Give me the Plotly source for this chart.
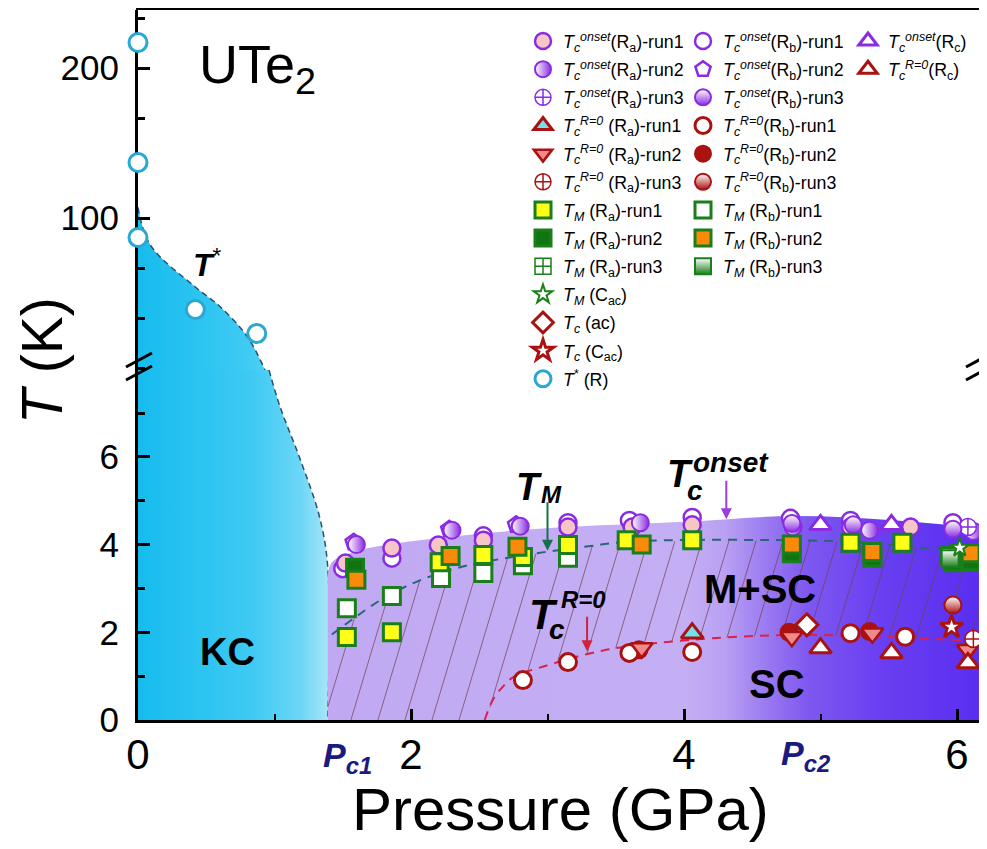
import numpy as np
import plotly.graph_objects as go

FONT = "Liberation Sans, Arial, sans-serif"

# ---------------- data : pressure (GPa), temperature (K) ----------------
# T*(R)  (upper panel)
tstar_P = [0.0, 0.0, 0.0, 0.42, 0.87]
tstar_T = [217, 137, 87, 39, 23]

# Tc onset
on_Ra1_P = [1.52, 1.86, 2.20, 2.53, 3.15, 3.62, 4.06, 5.22, 5.66]
on_Ra1_T = [3.58, 3.92, 3.99, 4.10, 4.40, 4.40, 4.45, 4.40, 4.40]
on_Ra2_P = [1.60, 2.30, 2.80, 3.68, 4.80, 5.36, 6.12]
on_Ra2_T = [4.00, 4.33, 4.42, 4.50, 4.40, 4.33, 4.30]
on_Ra3_P = [6.08]
on_Ra3_T = [4.40]
on_Rb1_P = [1.50, 1.86, 2.53, 3.15, 3.60, 4.06, 4.78, 5.22, 5.97]
on_Rb1_T = [3.45, 3.69, 4.20, 4.50, 4.55, 4.62, 4.60, 4.55, 4.50]
on_Rb2_P = [1.58, 2.28, 2.77]
on_Rb2_T = [4.05, 4.35, 4.45]
on_Rb3_P = [4.79, 5.24, 5.97]
on_Rb3_T = [4.48, 4.45, 4.35]
on_Rc_P = [5.00, 5.52]
on_Rc_T = [4.45, 4.45]

# Tc (R=0)
r0_Ra1_P = [4.06]
r0_Ra1_T = [1.98]
r0_Ra2_P = [3.69, 4.79, 5.38, 6.08]
r0_Ra2_T = [1.64, 1.90, 1.98, 1.60]
r0_Ra3_P = [6.12]
r0_Ra3_T = [1.85]
r0_Rb1_P = [2.82, 3.15, 3.60, 4.06, 5.22, 5.62]
r0_Rb1_T = [0.91, 1.32, 1.53, 1.55, 1.98, 1.90]
r0_Rb2_P = [3.67, 4.77, 5.36]
r0_Rb2_T = [1.60, 2.00, 2.02]
r0_Rb3_P = [5.97]
r0_Rb3_T = [2.62]
r0_Rc_P = [5.00, 5.52, 6.08]
r0_Rc_T = [1.64, 1.53, 1.30]
tc_ac_P = [4.90]
tc_ac_T = [2.17]
tc_cac_P = [5.96]
tc_cac_T = [2.12]

# TM
tm_Ra1_P = [1.53, 1.86, 2.21, 2.53, 2.82, 3.15, 3.58, 4.06, 5.22, 5.60]
tm_Ra1_T = [1.89, 2.00, 3.60, 3.76, 3.72, 3.99, 4.10, 4.10, 4.04, 4.04]
tm_Ra2_P = [1.59, 4.79, 5.38, 5.97, 6.10]
tm_Ra2_T = [3.47, 3.80, 3.70, 3.60, 3.62]
tm_Ra3_P = [5.95]
tm_Ra3_T = [3.72]
tm_Rb1_P = [1.53, 1.86, 2.22, 2.53, 2.82, 3.15, 5.95]
tm_Rb1_T = [2.55, 2.83, 3.24, 3.35, 3.53, 3.70, 3.76]
tm_Rb2_P = [1.60, 2.29, 2.78, 3.69, 4.79, 5.38, 6.10]
tm_Rb2_T = [3.20, 3.74, 3.95, 4.00, 4.00, 3.83, 3.80]
tm_Rb3_P = [5.95]
tm_Rb3_T = [3.68]
tm_cac_P = [6.02]
tm_cac_T = [3.93]

# phase boundaries
kc_up_P = [0.0, 0.09, 0.42, 0.60, 0.80, 0.93]
kc_up_T = [107, 82, 54, 41, 21, -1.3]
kc_lo_P = [0.96, 1.04, 1.19, 1.33, 1.39, 1.39]
kc_lo_T = [7.98, 7.15, 5.93, 4.63, 3.49, 0.0]
onset_P = [1.39, 1.42, 1.60, 1.92, 2.41, 3.02, 4.00, 4.80, 5.50, 6.161]
onset_T = [3.30, 3.60, 3.85, 4.04, 4.22, 4.38, 4.52, 4.65, 4.56, 4.38]
tmb_P = [1.42, 1.80, 2.07, 2.38, 2.67, 3.00, 3.30, 3.60, 4.75, 5.30, 5.85, 6.161]
tmb_T = [1.95, 2.78, 3.19, 3.50, 3.68, 3.84, 3.96, 4.07, 4.10, 4.05, 3.90, 3.85]
r0b_P = [2.54, 2.60, 2.67, 2.75, 2.97, 3.43, 4.02, 4.78, 5.40, 6.161]
r0b_T = [0.00, 0.46, 0.75, 0.98, 1.22, 1.60, 1.82, 1.94, 1.90, 1.80]

x_ticks = [0, 2, 4, 6]
y_ticks_low = [0, 2, 4, 6]
y_ticks_up = [100, 200]

# ---------------- geometry (page pixels; the page body adds an 8 px offset) ----------------
OFF = 8
PAGE_W, PAGE_H = 987, 849
L, R, T, B = 138, 979, 10, 720          # plot area in page pixels
W, H = PAGE_W - OFF, PAGE_H - OFF       # figure size
PW, PH = R - L, B - T
YB = 370                                # page pixel of the axis break
XMAX = PW / 136.5
LOW_TOP = (B - YB) / 43.85
UP_TOP = 100 + (218 - T) / 1.5
UP_BOT = UP_TOP - (YB - T) / 1.5
DSPLIT = (B - YB) / PH

def pp(px, py):
    return (px - L) / PW, (B - py) / PH

VIO = '#8A2BE2'
PINK = '#F6C6C6'
DRED = '#AA1111'
CYT = '#6EE3EE'
CORAL = '#F08A8A'
GRN = '#1A7F1A'
YEL = '#FFFF1A'
ORG = '#FA8A0A'
TSC = '#2BA8D2'

KC_SCALE = [[0, '#16BCEE'], [0.6, '#3ECAF3'], [0.85, '#6AD6F6'], [1, '#A6E5F8']]

fig = go.Figure()

# ---------------- regions ----------------
fig.add_trace(go.Scatter(
    x=kc_lo_P, y=kc_lo_T, mode='lines', xaxis='x', yaxis='y',
    line=dict(color='#2C4F6E', width=1.5, dash='6px,4px', shape='spline'),
    fill='tozerox',
    fillgradient=dict(type='horizontal', start=0, stop=1.39, colorscale=KC_SCALE),
    showlegend=False, hoverinfo='skip'))
fig.add_trace(go.Scatter(
    x=kc_up_P, y=kc_up_T, mode='lines', xaxis='x', yaxis='y2',
    line=dict(color='#2C4F6E', width=1.5, dash='6px,4px', shape='spline'),
    fill='tozerox',
    fillgradient=dict(type='horizontal', start=0, stop=1.33, colorscale=KC_SCALE),
    showlegend=False, hoverinfo='skip'))
fig.add_trace(go.Scatter(
    x=onset_P, y=onset_T, mode='lines', xaxis='x', yaxis='y',
    line=dict(width=0, shape='spline', color='rgba(0,0,0,0)'),
    fill='tozeroy',
    fillgradient=dict(type='horizontal', start=1.39, stop=XMAX,
                      colorscale=[[0, '#C0A9F2'], [0.55, '#C4AFF4'], [0.61, '#B9A0F3'],
                                  [0.674, '#9A7AF1'], [0.737, '#7E58F0'], [0.842, '#6A40F1'],
                                  [1, '#5A2EF0']]),
    showlegend=False, hoverinfo='skip'))

# hatching between the R=0 boundary and the TM boundary
k = 0.0964
Tg = np.linspace(0, 4.4, 500)
hx, hy = [], []
for c in np.arange(1.39 - k * 4.4, XMAX + 0.2, 0.198):
    Pl = c + k * Tg
    up = np.interp(Pl, tmb_P, tmb_T)
    lo = np.where(Pl < r0b_P[0], 0.0, np.interp(Pl, r0b_P, r0b_T))
    ok = (Pl >= 1.39) & (Pl <= XMAX) & (Tg >= lo) & (Tg <= up)
    for a, b, o in zip(Pl, Tg, ok):
        hx.append(float(a) if o else None)
        hy.append(float(b) if o else None)
    hx.append(None)
    hy.append(None)
fig.add_trace(go.Scatter(x=hx, y=hy, mode='lines', xaxis='x', yaxis='y',
                         line=dict(color='rgba(110,65,75,0.7)', width=1),
                         showlegend=False, hoverinfo='skip', connectgaps=False))

fig.add_trace(go.Scatter(x=tmb_P, y=tmb_T, mode='lines', xaxis='x', yaxis='y',
                         line=dict(color='#2A6478', width=2, dash='9px,7px', shape='spline'),
                         showlegend=False, hoverinfo='skip'))
fig.add_trace(go.Scatter(x=r0b_P, y=r0b_T, mode='lines', xaxis='x', yaxis='y',
                         line=dict(color='#D8224E', width=2, dash='9px,7px', shape='spline'),
                         showlegend=False, hoverinfo='skip'))

# ---------------- markers ----------------
def pts(P, Tv, name, symbol, color, lcolor, lw, legend, rank, size=17, grad=None,
        xaxis='x', yaxis='y', clip=True):
    marker = dict(symbol=symbol, size=size, color=color, line=dict(color=lcolor, width=lw))
    if grad:
        marker['gradient'] = dict(type=grad[0], color=grad[1])
    fig.add_trace(go.Scatter(x=P, y=Tv, mode='markers', name=name, marker=marker,
                             legend=legend, legendrank=rank, legendgroup=legend + str(rank),
                             xaxis=xaxis, yaxis=yaxis, cliponaxis=clip, hoverinfo='skip'))

ON = "<i>T</i><sub><i>c</i></sub><sup><i>onset</i></sup>"
RZ = "<i>T</i><sub><i>c</i></sub><sup><i>R=0</i></sup>"
TMn = "<i>T</i><sub><i>M</i></sub>"

pts(on_Rb1_P, on_Rb1_T, ON + "(R<sub>b</sub>)-run1", 'circle', 'white', VIO, 2.5, 'legend2', 1)
pts(on_Ra1_P, on_Ra1_T, ON + "(R<sub>a</sub>)-run1", 'circle', PINK, VIO, 2.5, 'legend', 1)
pts(on_Rb2_P, on_Rb2_T, ON + "(R<sub>b</sub>)-run2", 'pentagon', 'white', VIO, 2.5, 'legend2', 2)
pts(on_Ra2_P, on_Ra2_T, ON + "(R<sub>a</sub>)-run2", 'circle', 'white', VIO, 2, 'legend', 2,
    grad=('horizontal', VIO))
pts(on_Ra3_P, on_Ra3_T, ON + "(R<sub>a</sub>)-run3", 'circle-cross', 'white', VIO, 1.5, 'legend', 3)
pts(on_Rb3_P, on_Rb3_T, ON + "(R<sub>b</sub>)-run3", 'circle', 'white', VIO, 2, 'legend2', 3,
    grad=('vertical', VIO))
pts(on_Rc_P, on_Rc_T, ON + "(R<sub>c</sub>)", 'triangle-up', 'white', VIO, 3, 'legend3', 1, size=19)

pts(r0_Rb2_P, r0_Rb2_T, RZ + "(R<sub>b</sub>)-run2", 'circle', DRED, DRED, 2, 'legend2', 5)
pts(r0_Rb1_P, r0_Rb1_T, RZ + "(R<sub>b</sub>)-run1", 'circle', 'white', DRED, 3, 'legend2', 4)
pts(r0_Ra2_P, r0_Ra2_T, RZ + " (R<sub>a</sub>)-run2", 'triangle-down', CORAL, DRED, 2.5, 'legend', 5, size=19)
pts(r0_Ra1_P, r0_Ra1_T, RZ + " (R<sub>a</sub>)-run1", 'triangle-up', CYT, DRED, 3, 'legend', 4, size=19)
pts(r0_Rc_P, r0_Rc_T, RZ + "(R<sub>c</sub>)", 'triangle-up', 'white', DRED, 3, 'legend3', 2, size=19)
pts(r0_Ra3_P, r0_Ra3_T, RZ + " (R<sub>a</sub>)-run3", 'circle-cross', 'white', DRED, 1.5, 'legend', 6)
pts(r0_Rb3_P, r0_Rb3_T, RZ + "(R<sub>b</sub>)-run3", 'circle', 'white', DRED, 2, 'legend2', 6,
    grad=('vertical', DRED))
pts(tc_ac_P, tc_ac_T, "<i>T</i><sub><i>c</i></sub> (ac)", 'diamond', 'white', DRED, 3, 'legend', 11)
pts(tc_cac_P, tc_cac_T, "<i>T</i><sub><i>c</i></sub> (C<sub>ac</sub>)", 'star', 'white', DRED, 3, 'legend', 12)

pts(tm_Rb1_P, tm_Rb1_T, TMn + " (R<sub>b</sub>)-run1", 'square', 'white', GRN, 3, 'legend2', 7)
pts(tm_Ra1_P, tm_Ra1_T, TMn + " (R<sub>a</sub>)-run1", 'square', YEL, GRN, 3, 'legend', 7)
pts(tm_Ra2_P, tm_Ra2_T, TMn + " (R<sub>a</sub>)-run2", 'square', '#107510', GRN, 3, 'legend', 8)
pts(tm_Rb2_P, tm_Rb2_T, TMn + " (R<sub>b</sub>)-run2", 'square', ORG, GRN, 3, 'legend2', 8)
pts(tm_Ra3_P, tm_Ra3_T, TMn + " (R<sub>a</sub>)-run3", 'square-cross', 'white', GRN, 1.5, 'legend', 9)
pts(tm_Rb3_P, tm_Rb3_T, TMn + " (R<sub>b</sub>)-run3", 'square', 'white', GRN, 2, 'legend2', 9,
    grad=('vertical', GRN))
pts(tm_cac_P, tm_cac_T, TMn + " (C<sub>ac</sub>)", 'star', 'white', GRN, 2, 'legend', 10, size=14)

pts(tstar_P, tstar_T, "<i>T</i><sup>*</sup> (R)", 'circle', 'white', TSC, 3, 'legend', 13,
    size=18, xaxis='x3', yaxis='y3', clip=False)

# ---------------- layout ----------------
axcommon = dict(showgrid=False, zeroline=False, showline=True, linecolor='black', linewidth=3,
                ticks='inside', tickcolor='black', tickwidth=3)
leg_common = dict(bgcolor='rgba(0,0,0,0)', font=dict(family=FONT, size=17.8, color='black'),
                  xanchor='left', yanchor='top', xref='paper', yref='paper',
                  traceorder='grouped', tracegroupgap=2, itemwidth=30, borderwidth=0)

fig.update_layout(
    width=W, height=H,
    margin=dict(l=L - OFF, r=PAGE_W - R, t=T - OFF, b=PAGE_H - B, pad=0, autoexpand=False),
    paper_bgcolor='white', plot_bgcolor='rgba(0,0,0,0)',
    font=dict(family=FONT, color='black'),
    hovermode=False,
    xaxis=dict(range=[0, XMAX], domain=[0, 1], anchor='y', tickvals=x_ticks,
               ticklen=11, tickfont=dict(size=42), ticklabelstandoff=-4,
               minor=dict(dtick=1, tick0=0, ticks='inside', ticklen=6, tickwidth=2, tickcolor='black'),
               **axcommon),
    yaxis=dict(range=[0, LOW_TOP], domain=[0, DSPLIT], anchor='x', tickvals=y_ticks_low,
               ticklen=12, mirror=True, tickfont=dict(size=35), ticklabelstandoff=9,
               minor=dict(dtick=1, tick0=0, ticks='inside', ticklen=7, tickwidth=2.5, tickcolor='black'),
               **axcommon),
    yaxis2=dict(range=[UP_BOT, UP_TOP], domain=[DSPLIT, 1], anchor='x', tickvals=y_ticks_up,
                ticklen=12, mirror=True, tickfont=dict(size=35), ticklabelstandoff=9,
                minor=dict(dtick=100 / 3, tick0=0, ticks='inside', ticklen=7, tickwidth=2.5,
                           tickcolor='black'),
                **axcommon),
    xaxis3=dict(range=[0, XMAX], domain=[0, 1], anchor='y3', visible=False),
    yaxis3=dict(range=[UP_BOT, UP_TOP], domain=[DSPLIT, 1], anchor='x3', visible=False),
    legend=dict(x=pp(523, 0)[0], y=pp(0, 23)[1], **leg_common),
    legend2=dict(x=pp(683, 0)[0], y=pp(0, 23)[1], **leg_common),
    legend3=dict(x=pp(848, 0)[0], y=pp(0, 23)[1], **leg_common),
)

# frame top line and axis-break marks
shapes = [dict(type='line', xref='paper', yref='paper', x0=pp(136, 0)[0], x1=pp(981, 0)[0],
               y0=pp(0, 8.5)[1], y1=pp(0, 8.5)[1], line=dict(color='black', width=3))]
for (xa, ya, xb, yb) in [(126, 367, 152, 353), (126, 380, 152, 366),
                         (966, 367, 992, 353), (966, 380, 992, 366)]:
    x0, y0 = pp(xa, ya)
    x1, y1 = pp(xb, yb)
    shapes.append(dict(type='line', xref='paper', yref='paper', x0=x0, y0=y0, x1=x1, y1=y1,
                       line=dict(color='black', width=3)))
fig.update_layout(shapes=shapes)

def ann(px, py, text, size, color='black', angle=0):
    x, y = pp(px, py)
    fig.add_annotation(x=x, y=y, xref='paper', yref='paper', text=text, showarrow=False,
                       textangle=angle, xanchor='center', yanchor='middle',
                       font=dict(family=FONT, size=size, color=color))

ann(560, 809, "Pressure (GPa)", 60)
ann(42, 361, "<i>T</i> (K)", 57, angle=-90)
ann(257, 68, "UTe<sub>2</sub>", 54)
ann(207, 263, "<b><i>T</i></b><sup>*</sup>", 32)
ann(227, 652, "<b>KC</b>", 38)
ann(760, 589, "<b>M+SC</b>", 40)
ann(777, 684, "<b>SC</b>", 40)
ann(529, 487, "<b><i>T</i></b>", 38)
ann(551, 494, "<b><i>M</i></b>", 24)
ann(680, 474, "<b><i>T</i></b>", 38)
ann(731, 462, "<b><i>onset</i></b>", 28)
ann(695, 490, "<b><i>c</i></b>", 28)
ann(543, 614, "<b><i>T</i></b>", 42)
ann(583, 599, "<b><i>R=0</i></b>", 24)
ann(557, 629, "<b><i>c</i></b>", 28)
ann(347, 757, "<b><i>P</i></b><sub><b><i>c1</i></b></sub>", 34, color='#1A1A80')
ann(805, 755, "<b><i>P</i></b><sub><b><i>c2</i></b></sub>", 34, color='#1A1A80')

# arrows
for (xh, yh, dy, col) in [(3.0, 3.86, -50, '#17704A'), (4.31, 4.58, -40, '#9B3BE0'),
                          (3.29, 1.57, -36, '#D0213F')]:
    fig.add_annotation(x=xh, y=yh, xref='x', yref='y', ax=0, ay=dy, text='', showarrow=True,
                       arrowhead=2, arrowsize=1.1, arrowwidth=2, arrowcolor=col)

fig.write_html("out.html")
